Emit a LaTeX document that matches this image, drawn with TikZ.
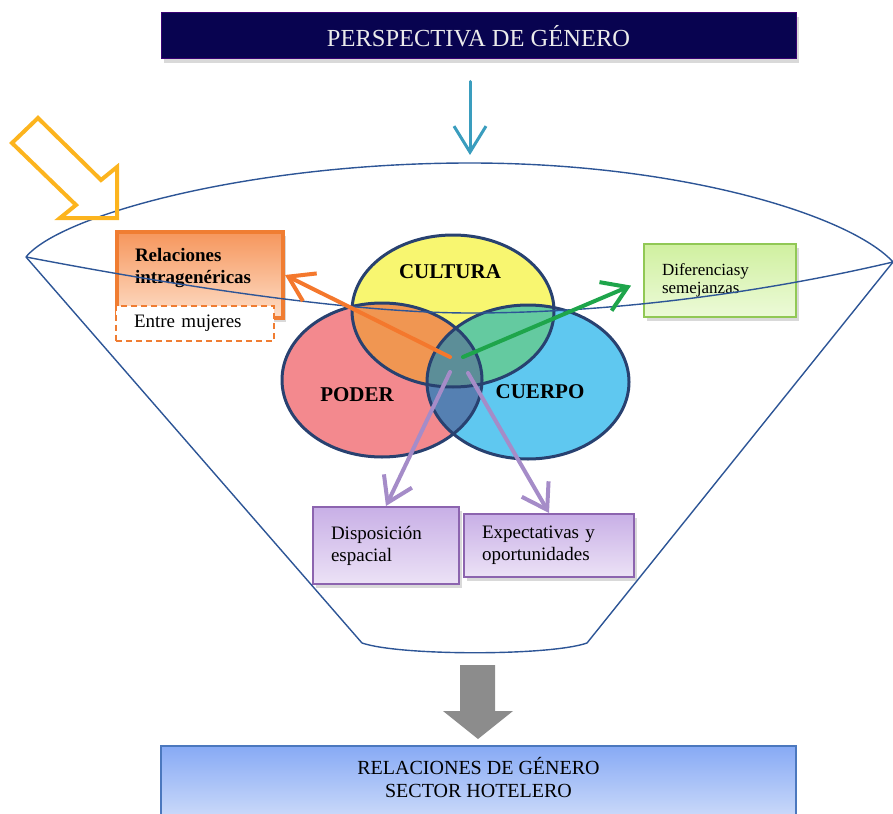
\documentclass[tikz,border=0pt]{standalone}
\usepackage{fontspec}
\setmainfont{Liberation Serif}
\usetikzlibrary{arrows.meta,positioning,shadows}
\definecolor{navy}{RGB}{8,3,80}
\definecolor{tealarr}{RGB}{58,157,190}
\definecolor{goldarr}{RGB}{252,180,30}
\definecolor{funnelblue}{RGB}{45,85,150}
\definecolor{relline}{RGB}{240,125,50}
\definecolor{reltop}{RGB}{246,150,92}
\definecolor{relbot}{RGB}{253,222,200}
\definecolor{difline}{RGB}{145,200,85}
\definecolor{diftop}{RGB}{208,240,160}
\definecolor{difbot}{RGB}{236,250,216}
\definecolor{lilline}{RGB}{140,100,175}
\definecolor{liltop}{RGB}{200,175,230}
\definecolor{lilbot}{RGB}{236,226,246}
\definecolor{lilarr}{RGB}{165,140,200}
\definecolor{hotline}{RGB}{75,120,190}
\definecolor{hottop}{RGB}{135,170,245}
\definecolor{hotbot}{RGB}{220,230,250}
\definecolor{grayarr}{RGB}{140,140,140}
\definecolor{orangearr}{RGB}{244,120,45}
\definecolor{greenarr}{RGB}{30,165,75}
\definecolor{vennline}{RGB}{40,65,112}
\definecolor{culcol}{RGB}{248,246,112}
\definecolor{podcol}{RGB}{243,137,142}
\definecolor{cuecol}{RGB}{95,200,240}
\definecolor{culpod}{RGB}{240,150,82}
\definecolor{culcue}{RGB}{100,202,160}
\definecolor{podcue}{RGB}{85,128,178}
\definecolor{allthree}{RGB}{92,142,152}
\tikzstyle{every node}=[font=\fontsize{19}{22}\selectfont]
\tikzstyle{shadowed}=[drop shadow={opacity=0.3,shadow xshift=3pt,shadow yshift=-4pt}]
\tikzstyle{titlebox}=[rectangle,fill=navy,draw=navy!80!magenta,line width=1pt,text=white!92!black,minimum width=635pt,minimum height=46pt,shadowed,font=\fontsize{24.5}{28}\selectfont]
\tikzstyle{hotelbox}=[rectangle,top color=hottop,bottom color=hotbot,draw=hotline,line width=1.5pt,minimum width=635pt,minimum height=90pt]
\tikzstyle{txtbox}=[rectangle,align=left,inner xsep=18pt,inner ysep=0pt,shadowed]
\tikzstyle{relbox}=[txtbox,top color=reltop,bottom color=relbot,draw=relline,line width=4pt,text width=130pt,minimum height=86pt,font=\bfseries\fontsize{19}{22}\selectfont,text depth=41pt]
\tikzstyle{mujbox}=[rectangle,fill=white,draw=relline,line width=1.6pt,dash pattern=on 6pt off 4pt,align=left,inner xsep=18pt,text width=122pt,minimum height=35pt]
\tikzstyle{difbox}=[txtbox,top color=diftop,bottom color=difbot,draw=difline,line width=2pt,text width=116pt,minimum height=73pt,font=\fontsize{17}{18}\selectfont]
\tikzstyle{lilbox}=[txtbox,top color=liltop,bottom color=lilbot,draw=lilline,line width=2pt]
\tikzstyle{venntxt}=[font=\bfseries\fontsize{21}{24}\selectfont]
\tikzstyle{vennborder}=[draw=vennline,line width=3pt]
\tikzstyle{funnel}=[draw=funnelblue,line width=1.4pt]
\tikzstyle{venarr}=[line width=4pt,line cap=round,-{Straight Barb[length=24pt,width=31pt]}]

\begin{document}
\begin{tikzpicture}[x=1pt,y=-1pt]
  \useasboundingbox (0,0) rectangle (893,813);

  \node[titlebox] (persp) at (478.5,36) {PERSPECTIVA DE GÉNERO};

  \coordinate (cul) at (453,311);
  \coordinate (pod) at (382,380);
  \coordinate (cue) at (528,382);
  \fill[culcol] (cul) ellipse [x radius=101pt,y radius=76pt];
  \fill[podcol] (pod) ellipse [x radius=100pt,y radius=77pt];
  \fill[cuecol] (cue) ellipse [x radius=101pt,y radius=77pt];
  \begin{scope}
    \clip (cul) ellipse [x radius=101pt,y radius=76pt];
    \fill[culpod] (pod) ellipse [x radius=100pt,y radius=77pt];
    \fill[culcue] (cue) ellipse [x radius=101pt,y radius=77pt];
  \end{scope}
  \begin{scope}
    \clip (pod) ellipse [x radius=100pt,y radius=77pt];
    \fill[podcue] (cue) ellipse [x radius=101pt,y radius=77pt];
    \clip (cul) ellipse [x radius=101pt,y radius=76pt];
    \fill[allthree] (cue) ellipse [x radius=101pt,y radius=77pt];
  \end{scope}
  \draw[vennborder] (cul) ellipse [x radius=101pt,y radius=76pt];
  \draw[vennborder] (pod) ellipse [x radius=100pt,y radius=77pt];
  \draw[vennborder] (cue) ellipse [x radius=101pt,y radius=77pt];
  \node[venntxt] (cultura) at (450,272) {CULTURA};
  \node[venntxt] (poder) at (357,395) {PODER};
  \node[venntxt] (cuerpo) at (540,392) {CUERPO};

  \node[relbox] (rel) at (200,275) {Relaciones\\intragenéricas};
  \node[mujbox,below=-15pt of rel,xshift=-5pt] (muj) {Entre mujeres};
  \node[difbox] (dif) at (720,280.5) {Diferenciasy\\semejanzas};
  \node[lilbox,text width=110pt,minimum height=77pt] (disp) at (386,545.5) {Disposición\\espacial};
  \node[lilbox,text width=134pt,minimum height=63pt,right=3pt of disp] (expe) {Expectativas y\\oportunidades};

  \coordinate (ftl) at (26,257);
  \coordinate (ftr) at (893,262);
  \coordinate (ftop) at (470,163);
  \coordinate (fbot) at (470,313);
  \coordinate (fbl) at (362,643);
  \coordinate (fbr) at (587,643);
  \draw[funnel] (ftl) .. controls (60,215) and (250,163) .. (ftop)
    .. controls (680,163) and (850,215) .. (ftr)
    .. controls (800,284) and (640,313) .. (fbot)
    .. controls (330,313) and (120,275) .. (ftl);
  \draw[funnel] (ftl) -- (fbl) .. controls (400,656) and (550,656) .. (fbr) -- (ftr);

  \coordinate (ostart) at (450,357);
  \coordinate (gstart) at (463,357);
  \coordinate (pstart) at (450,372);
  \coordinate (qstart) at (468,373);
  \draw[venarr,orangearr] (ostart) -- (rel.east);
  \draw[venarr,greenarr,shorten >=13pt] (gstart) -- (dif.west);
  \draw[venarr,lilarr] (pstart) -- (disp.north);
  \draw[venarr,lilarr] (qstart) -- (expe.north);

  \draw[tealarr,line width=3pt,line cap=round,-{Straight Barb[length=26pt,width=32pt]},shorten <=22pt,shorten >=8pt] (persp.south -| ftop) -- (ftop);

  \draw[goldarr,line width=4pt,line join=miter] (38,118) -- (101,180) -- (117,167) -- (117,218) -- (60,218) -- (76,205) -- (12,143) -- cycle;

  \fill[grayarr] (460,665) -- (495,665) -- (495,711) -- (513,711) -- (478,739) -- (443,711) -- (460,711) -- cycle;

  \node[hotelbox,anchor=north] (hotel) at (478.5,745) {};
  \node[align=center,font=\fontsize{20}{23}\selectfont] (hoteltxt) at (478.5,778) {RELACIONES DE GÉNERO\\SECTOR HOTELERO};
\end{tikzpicture}
\end{document}
